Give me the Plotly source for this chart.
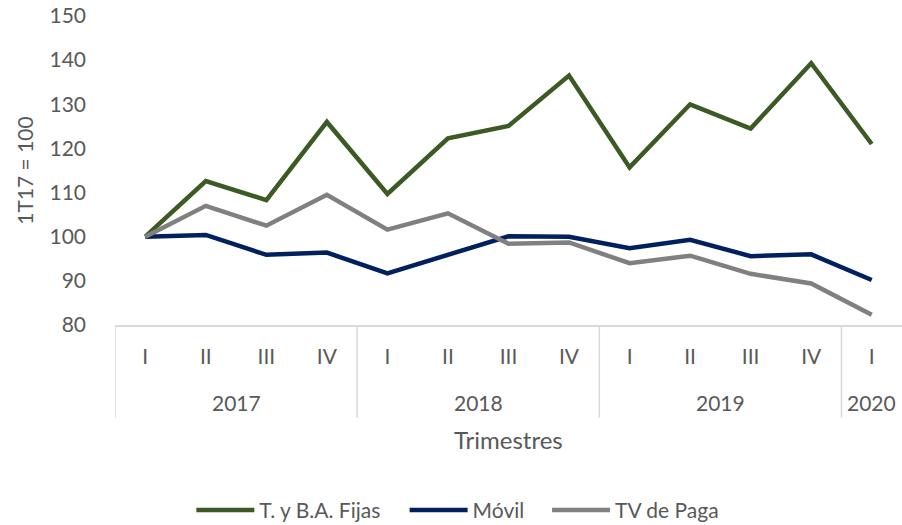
import plotly.graph_objects as go

year_groups = ["2017", "2018", "2019", "2020"]
group_sizes = [4, 4, 4, 1]
quarters = ["I", "II", "III", "IV"] * 3 + ["I"]

fijas = [100, 112.6, 108.3, 126.0, 109.7, 122.3, 125.1, 136.5, 115.7, 130.0, 124.5, 139.3, 121.0]
movil = [100, 100.4, 95.9, 96.4, 91.7, 95.8, 100.1, 100.0, 97.4, 99.3, 95.6, 96.0, 90.2]
tv_paga = [100, 107.0, 102.5, 109.5, 101.6, 105.3, 98.4, 98.7, 94.0, 95.7, 91.6, 89.4, 82.3]

names = ["T. y B.A. Fijas", "Móvil", "TV de Paga"]
colors = ["#3b5a24", "#002060", "#808080"]
legend_ids = ["legend", "legend2", "legend3"]
legend_x = [0.097, 0.368, 0.549]

font_family = "Lato, 'Open Sans', sans-serif"
txt = "#595959"
axis_col = "#d9d9d9"

idx = list(range(len(quarters)))

fig = go.Figure()
for name, vals, col, lg in zip(names, [fijas, movil, tv_paga], colors, legend_ids):
    fig.add_trace(go.Scatter(
        x=idx, y=vals, name=name, mode="lines", legend=lg,
        line=dict(color=col, width=4.5),
    ))

# year group labels and dividers
start = 0
for yr, n in zip(year_groups, group_sizes):
    fig.add_annotation(x=start + (n - 1) / 2, xref="x", y=-0.252, yref="paper",
                       text=yr, showarrow=False, yanchor="middle",
                       font=dict(size=21, color=txt))
    fig.add_shape(type="line", xref="x", yref="paper", x0=start - 0.5, x1=start - 0.5,
                  y0=0, y1=-0.30, line=dict(color=axis_col, width=1.5))
    start += n

fig.add_annotation(x=0.5, xref="paper", y=-0.37, yref="paper", text="Trimestres",
                   showarrow=False, yanchor="middle", font=dict(size=24, color=txt))

legend_common = dict(orientation="h", y=-0.6, yanchor="middle", xanchor="left",
                     font=dict(size=21, color=txt), itemwidth=58,
                     bgcolor="rgba(0,0,0,0)")
legends = {lg: dict(legend_common, x=lx) for lg, lx in zip(legend_ids, legend_x)}

fig.update_layout(
    width=902, height=525,
    margin=dict(l=115, r=0, t=16, b=200, autoexpand=False),
    plot_bgcolor="white", paper_bgcolor="white",
    font=dict(family=font_family, size=21, color=txt),
    showlegend=True,
    xaxis=dict(
        tickmode="array", tickvals=idx, ticktext=quarters,
        showline=True, linecolor=axis_col, linewidth=1.5,
        ticks="", showgrid=False, zeroline=False, automargin=False,
        tickfont=dict(size=21, color=txt), ticklabelstandoff=12,
        range=[-0.5, len(quarters) - 0.5],
    ),
    yaxis=dict(
        range=[80, 150], dtick=10, showgrid=False, zeroline=False,
        showline=False, ticks="", automargin=False, ticklabelstandoff=28,
        tickfont=dict(size=21, color=txt),
        title=dict(text="1T17 = 100", font=dict(size=21, color=txt), standoff=10),
    ),
    **legends,
)

fig.write_html("out.html", config={"displayModeBar": False},
               post_script="document.body.style.margin='0';document.body.style.padding='0';document.body.style.overflow='hidden';")
